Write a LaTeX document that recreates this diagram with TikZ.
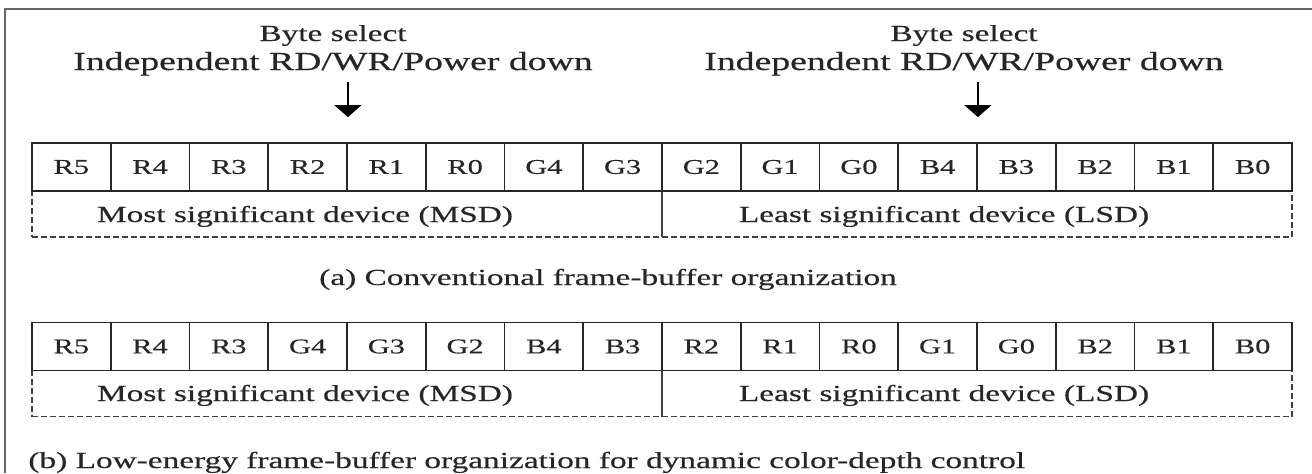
\documentclass[tikz,border=0pt]{standalone}
\usepackage{fontspec}
\setmainfont{Liberation Serif}
\newfontfamily\heavy{Liberation Serif}[FakeBold=0.35]
\usepackage{graphicx}
\usetikzlibrary{arrows.meta}
\newcommand{\wide}[1]{\scalebox{1.45}[1]{#1}}
\tikzset{
  bit/.style={draw=black!85, line width=0.9pt, minimum width=39.375pt, minimum height=24pt, inner sep=0pt, font=\heavy\fontsize{10.5}{12}\selectfont, text=black!85},
  half/.style={draw=black!75, dash pattern=on 3pt off 1.5pt, line width=0.6pt, minimum width=315pt, minimum height=23pt, inner sep=0pt},
  lbl/.style={font=\heavy\fontsize{11.5}{14}\selectfont, text=black!85, inner sep=0pt, anchor=base},
  big/.style={lbl, font=\heavy\fontsize{13}{15}\selectfont},
  sel/.style={-{Triangle[width=13.5pt,length=6pt]}, line width=0.6pt},
}
\begin{document}
\begin{tikzpicture}[x=0.5pt, y=-0.5pt]
	\useasboundingbox (0,0) rectangle (1312,473);
	% frame
	\draw[black!60, line width=1pt] (5,473) -- (5,9) -- (1312,9);
	% (a) conventional
	\node[lbl] (selA) at (333,41) {\wide{Byte select}};
	\node[big] (indA) at (333,70) {\wide{Independent RD/WR/Power down}};
	\node[lbl] (selB) at (964,41) {\wide{Byte select}};
	\node[big] (indB) at (964,70) {\wide{Independent RD/WR/Power down}};
	\node[half] (msdA) at (347,214) {};
	\node[half] (lsdA) at (977,214) {};
	\node[lbl] (msdAt) at (305,222) {\wide{Most significant device (MSD)}};
	\node[lbl] (lsdAt) at (944,222) {\wide{Least significant device (LSD)}};
	\foreach \t [count=\i] in {R5,R4,R3,R2,R1,R0,G4,G3,G2,G1,G0,B4,B3,B2,B1,B0}
		\node[bit] (a\i) at ({32+78.75*(\i-0.5)},167) {\wide{\t}};
	\draw[sel] ([yshift=30pt]a4.north east) -- ([yshift=12.5pt]a4.north east);
	\draw[sel] ([yshift=30pt]a12.north east) -- ([yshift=12.5pt]a12.north east);
	\node[lbl] (capA) at (608,285) {\wide{(a) Conventional frame-buffer organization}};
	% (b) low-energy
	\node[half] (msdB) at (347,393.5) {};
	\node[half] (lsdB) at (977,393.5) {};
	\node[lbl] (msdBt) at (305,401) {\wide{Most significant device (MSD)}};
	\node[lbl] (lsdBt) at (944,401) {\wide{Least significant device (LSD)}};
	\foreach \t [count=\i] in {R5,R4,R3,G4,G3,G2,B4,B3,R2,R1,R0,G1,G0,B2,B1,B0}
		\node[bit] (b\i) at ({32+78.75*(\i-0.5)},346.5) {\wide{\t}};
	\node[lbl, anchor=base west] (capB) at (28,468) {\wide{(b) Low-energy frame-buffer organization for dynamic color-depth control}};
\end{tikzpicture}
\end{document}
